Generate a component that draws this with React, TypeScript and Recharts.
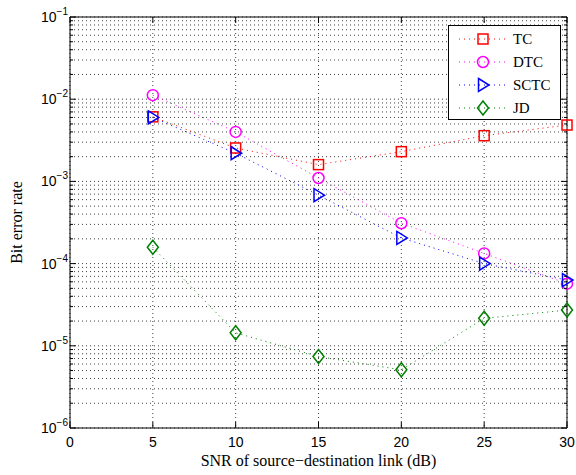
import React from 'react'
import {
  LineChart,
  Line,
  XAxis,
  YAxis,
  CartesianGrid,
  ReferenceLine,
  Legend,
} from 'recharts'

const snr = [5, 10, 15, 20, 25, 30]
const tc = [6.1e-3, 2.55e-3, 1.6e-3, 2.3e-3, 3.6e-3, 4.85e-3]
const dtc = [1.12e-2, 4.0e-3, 1.1e-3, 3.1e-4, 1.33e-4, 5.7e-5]
const sctc = [6.0e-3, 2.2e-3, 6.8e-4, 2.05e-4, 1.0e-4, 6.3e-5]
const jd = [1.58e-4, 1.44e-5, 7.4e-6, 5.1e-6, 2.16e-5, 2.72e-5]

const xTicks = [0, 5, 10, 15, 20, 25, 30]
const decades = [-6, -5, -4, -3, -2, -1]

const series = [
  { key: 'tc', name: 'TC', color: '#ff0000', shape: 'square', values: tc },
  { key: 'dtc', name: 'DTC', color: '#ff00ff', shape: 'circle', values: dtc },
  { key: 'sctc', name: 'SCTC', color: '#0000ff', shape: 'triangle', values: sctc },
  { key: 'jd', name: 'JD', color: '#008000', shape: 'diamond', values: jd },
]

const data = snr.map((x, i) => {
  const row: Record<string, number> = { snr: x }
  series.forEach((s) => (row[s.key] = s.values[i]))
  return row
})

// major + minor log ticks (1..9 per decade)
const yTicks: number[] = []
decades.slice(0, -1).forEach((e) => {
  for (let m = 1; m <= 9; m++) yTicks.push(Number((m * Math.pow(10, e)).toPrecision(3)))
})
yTicks.push(0.1)

const W = 576
const H = 475
const LEFT = 70
const RIGHT = 567
const TOP = 17
const BOTTOM = 428

const SANS = 'Liberation Sans, Arial, sans-serif'
const SERIF = 'Liberation Serif, Times New Roman, serif'

function Marker({ shape, cx, cy, color }: { shape: string; cx: number; cy: number; color: string }) {
  const common = { fill: 'none', stroke: color, strokeWidth: 1.5 }
  if (shape === 'square') return <rect x={cx - 5} y={cy - 5} width={10} height={10} {...common} />
  if (shape === 'circle') return <circle cx={cx} cy={cy} r={5.5} {...common} />
  if (shape === 'triangle')
    return <polygon points={`${cx - 4.5},${cy - 6.5} ${cx + 6},${cy} ${cx - 4.5},${cy + 6.5}`} {...common} />
  return <polygon points={`${cx},${cy - 7} ${cx + 5.5},${cy} ${cx},${cy + 7} ${cx - 5.5},${cy}`} {...common} />
}

function XTick(props: any) {
  const { x, payload } = props
  return (
    <g>
      <line x1={x} x2={x} y1={BOTTOM} y2={BOTTOM - 6} stroke="#000" />
      <line x1={x} x2={x} y1={TOP} y2={TOP + 6} stroke="#000" />
      <text x={x} y={447} textAnchor="middle" fontFamily={SANS} fontSize={14} fill="#000">
        {payload.value}
      </text>
    </g>
  )
}

function YTick(props: any) {
  const { y, payload } = props
  const lg = Math.log10(payload.value)
  const major = Math.abs(lg - Math.round(lg)) < 1e-6
  const len = major ? 6 : 3
  return (
    <g>
      <line x1={LEFT} x2={LEFT + len} y1={y} y2={y} stroke="#000" />
      <line x1={RIGHT} x2={RIGHT - len} y1={y} y2={y} stroke="#000" />
      {major && (
        <text x={68} y={y + 5} textAnchor="end" fontFamily={SANS} fontSize={14} fill="#000">
          10
          <tspan dy={-7} fontSize={10}>
            {'\u2212' + Math.abs(Math.round(lg))}
          </tspan>
        </text>
      )}
    </g>
  )
}

function LegendBox() {
  return (
    <div
      style={{
        width: 111,
        height: 93,
        border: '1px solid #000',
        background: '#fff',
        boxSizing: 'content-box',
      }}
    >
      <svg width={111} height={93}>
        {series.map((s, i) => {
          const cy = 13 + i * 23
          return (
            <g key={s.key}>
              <line x1={10} x2={58} y1={cy} y2={cy} stroke={s.color} strokeDasharray="1 4" />
              <Marker shape={s.shape} cx={34} cy={cy} color={s.color} />
              <text x={64} y={cy + 5} fontFamily={SERIF} fontSize={15} fill="#000">
                {s.name}
              </text>
            </g>
          )
        })}
      </svg>
    </div>
  )
}

export default function App() {
  return (
    <div style={{ position: 'absolute', left: 0, top: 0, width: W, height: H, background: '#fff' }}>
      <LineChart
        width={W}
        height={H}
        data={data}
        margin={{ top: TOP, right: W - RIGHT, bottom: 0, left: 0 }}
      >
        <CartesianGrid stroke="#000" strokeOpacity={0.75} strokeDasharray="1 3" />
        <XAxis
          dataKey="snr"
          type="number"
          domain={[0, 30]}
          ticks={xTicks}
          height={H - BOTTOM}
          tickLine={false}
          axisLine={{ stroke: '#000' }}
          tick={<XTick />}
          interval={0}
          label={(p: any) => (
            <text x={(LEFT + RIGHT) / 2} y={466} textAnchor="middle" fontFamily={SERIF} fontSize={16} fill="#000">
              SNR of source{'\u2212'}destination link (dB)
            </text>
          )}
        />
        <YAxis
          type="number"
          scale="log"
          domain={[1e-6, 1e-1]}
          allowDataOverflow
          ticks={yTicks}
          width={LEFT}
          tickLine={false}
          axisLine={{ stroke: '#000' }}
          tick={<YTick />}
          interval={0}
          label={(p: any) => (
            <text
              x={22}
              y={(TOP + BOTTOM) / 2}
              transform={`rotate(-90 22 ${(TOP + BOTTOM) / 2})`}
              textAnchor="middle"
              fontFamily={SERIF}
              fontSize={16}
              fill="#000"
            >
              Bit error rate
            </text>
          )}
        />
        <ReferenceLine y={0.1} stroke="#000" />
        <ReferenceLine x={30} stroke="#000" />
        {series.map((s) => (
          <Line
            key={s.key}
            dataKey={s.key}
            name={s.name}
            stroke={s.color}
            strokeDasharray="1 4"
            strokeWidth={1}
            isAnimationActive={false}
            dot={(p: any) => (
              <Marker key={`${s.key}-${p.index}`} shape={s.shape} cx={p.cx} cy={p.cy} color={s.color} />
            )}
            activeDot={false}
          />
        ))}
        <Legend
          layout="vertical"
          align="center"
          verticalAlign="middle"
          content={() => <LegendBox />}
          wrapperStyle={{ position: 'absolute', left: 448, top: 25, width: 113, height: 95 }}
        />
      </LineChart>
    </div>
  )
}
